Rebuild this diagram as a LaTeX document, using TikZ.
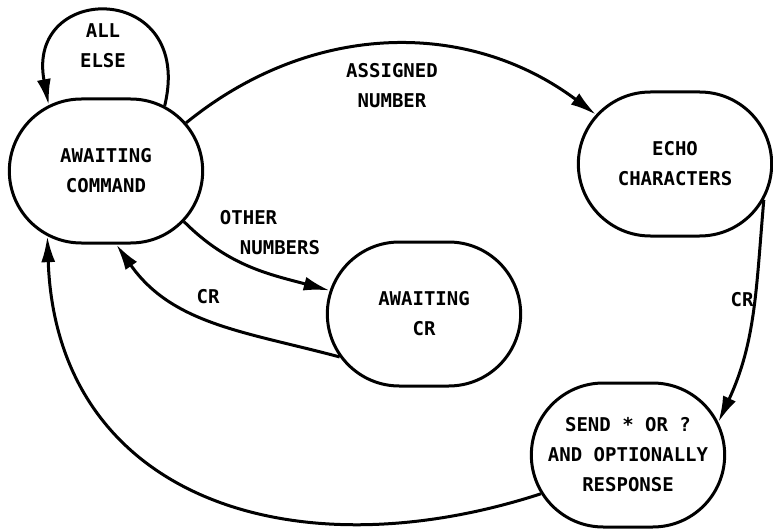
\documentclass[tikz,border=0pt]{standalone}
\usepackage{fontspec}
\newfontfamily\plotfont{DejaVu Sans Mono}
\usetikzlibrary{shapes.misc, arrows.meta}
\begin{document}
\begin{tikzpicture}[
        x=1pt, y=1pt, % one unit per pixel
        line width=3pt,
        state/.style = {rounded rectangle, draw, minimum width=200pt, minimum height=144pt,
                        align=center, font=\plotfont\bfseries\fontsize{19}{30}\selectfont}, % node style
        trans/.style = {draw, -{Latex[length=26pt,width=14pt]}},
        lbl/.style = {align=center, font=\plotfont\bfseries\fontsize{19}{30}\selectfont},
    ]
    \useasboundingbox (0,0) rectangle (773,531);

    \node[state] (cmd)  at (106,360) {AWAITING\\COMMAND};
    \node[state] (echo) at (675,367) {ECHO\\CHARACTERS};
    \node[state] (awcr) at (424,217) {AWAITING\\CR};
    \node[state] (send) at (628,76)  {SEND * OR ?\\AND OPTIONALLY\\RESPONSE};

    \draw[trans] (cmd.48) .. controls (195,550) and (25,550) .. (cmd.131); % self loop
    \draw[trans] (cmd.31) to[bend left=38] (echo.148);
    \draw[trans] (cmd.-33) to[out=-45, in=165] (awcr.166);
    \draw[trans] (awcr.207) to[out=165, in=-55] (cmd.-82);
    \draw[trans] (echo.-22) to[out=-95, in=65] (send.20);
    \draw[trans] (send.204) to[out=198, in=-88, looseness=1.2] (cmd.-132);

    \node[lbl] (allelse) at (103,485) {ALL\\ELSE};
    \node[lbl] (assigned) at (392,445) {ASSIGNED\\NUMBER};
    \node[lbl, align=left] (other) at (270,298) {OTHER\\\hspace*{20pt}NUMBERS};
    \node[lbl] (crleft) at (208,234) {CR};
    \node[lbl] (crright) at (742,231) {CR};
\end{tikzpicture}
\end{document}
